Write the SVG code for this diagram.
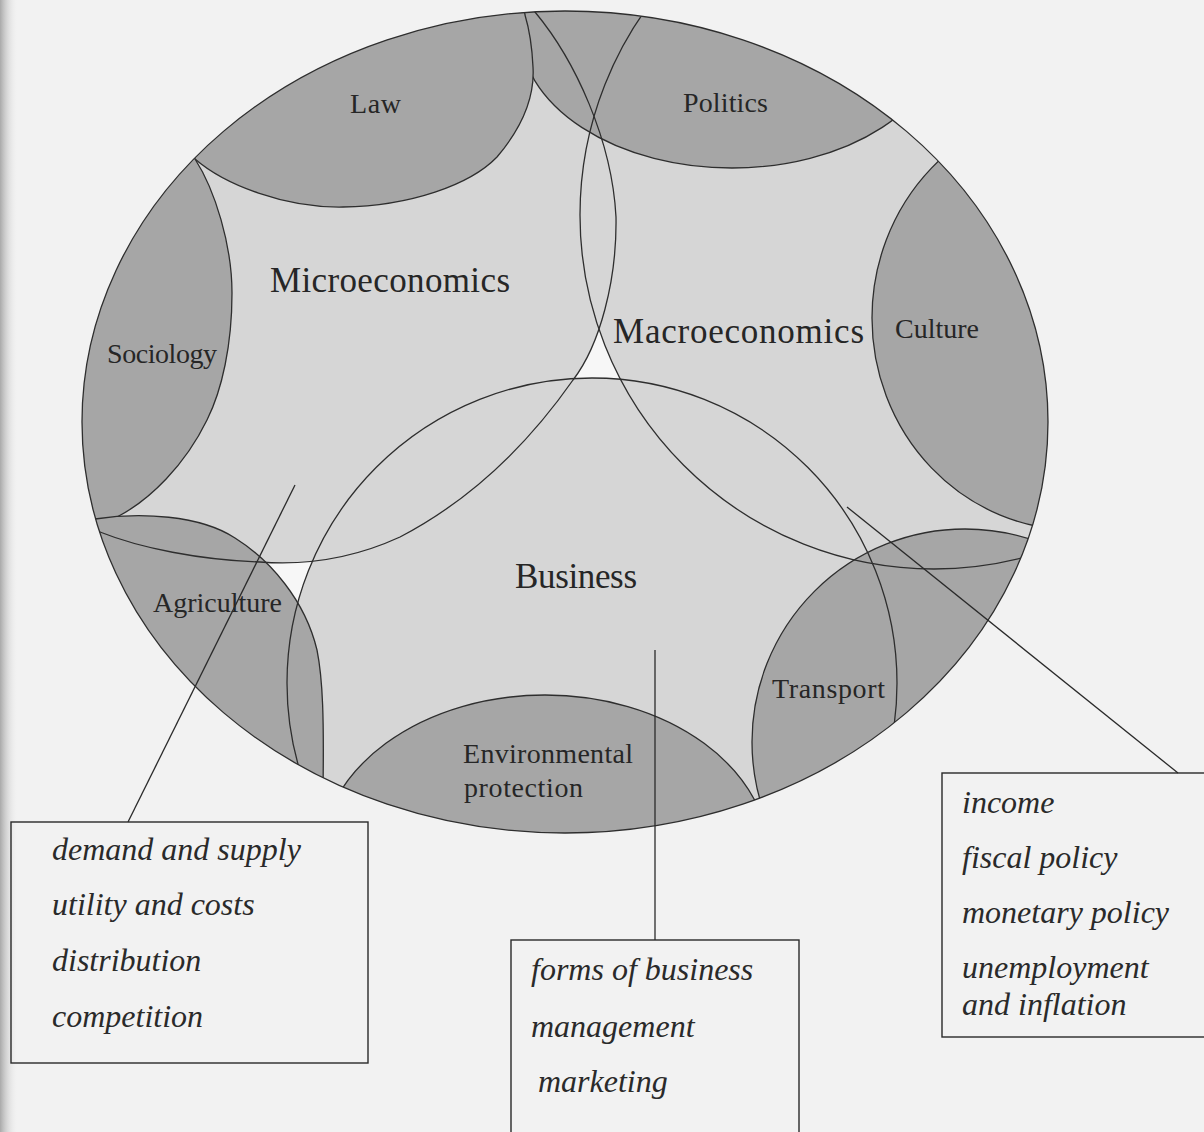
<svg xmlns="http://www.w3.org/2000/svg" width="1204" height="1132" viewBox="0 0 1204 1132">
  <defs>
    <clipPath id="oval-clip">
      <ellipse cx="565" cy="422" rx="483" ry="411"/>
    </clipPath>
    <linearGradient id="margin-shade" x1="0" y1="0" x2="1" y2="0">
      <stop offset="0" stop-color="#a9a9a9"/>
      <stop offset="1" stop-color="#f2f2f2" stop-opacity="0"/>
    </linearGradient>
    <!-- outlines of the three overlapping economics fields -->
    <path id="micro-shape" d="M 535,12 C 575,60 612,140 616,217 C 617,280 600,345 573,380 C 545,420 490,490 400,537 C 350,560 300,565 260,562 C 200,560 140,548 100,532 L 40,508 L 40,-36 L 495,-36 Z"/>
    <circle id="macro-shape" cx="934" cy="215" r="354"/>
    <circle id="business-shape" cx="592" cy="683" r="305"/>
  </defs>
  <style>
    .field { fill: #d6d6d6; stroke: none; }
    .ring { fill: none; stroke: #2e2e2e; stroke-width: 1.3; }
    .area { fill: #a6a6a6; stroke: #2e2e2e; stroke-width: 1.3; }
    .label { font-family: "Liberation Serif", "Times New Roman", serif; fill: #262626; }
    .small { font-size: 28px; }
    .big { font-size: 35px; }
    .note { font-family: "Liberation Serif", "Times New Roman", serif; font-style: italic; font-size: 32px; fill: #2a2a2a; }
    .box { fill: none; stroke: #2a2a2a; stroke-width: 1.4; }
    .pointer { fill: none; stroke: #2a2a2a; stroke-width: 1.3; }
  </style>

  <!-- page -->
  <rect x="0" y="0" width="1204" height="1132" fill="#f2f2f2"/>
  <rect x="0" y="0" width="18" height="1132" fill="url(#margin-shade)"/>

  <!-- outer oval -->
  <g id="oval">
    <ellipse cx="565" cy="422" rx="483" ry="411" fill="#f7f7f7"/>
  </g>

  <g clip-path="url(#oval-clip)">
    <!-- light fills of the economics fields -->
    <g id="fields">
      <use href="#micro-shape" class="field"/>
      <use href="#macro-shape" class="field"/>
      <use href="#business-shape" class="field"/>
    </g>

    <!-- neighbouring disciplines -->
    <g id="node-politics">
      <ellipse class="area" cx="732" cy="30" rx="212" ry="138"/>
      <text class="label small" x="683" y="112" textLength="85">Politics</text>
    </g>
    <g id="node-law">
      <path class="area" d="M 195,159 C 225,185 285,208 343,207 C 410,206 470,185 497,157 C 520,130 535,100 533,67 C 532,45 528,25 525,15 L 520,-20 L 150,-20 L 150,120 Z"/>
      <text class="label small" x="350" y="113" textLength="51">Law</text>
    </g>
    <g id="node-sociology">
      <path class="area" d="M 150,120 L 195,159 C 215,190 232,245 232,293 C 232,345 222,390 207,420 C 185,465 150,500 117,517 C 108,521 100,520 95,519 L 50,540 L 40,150 Z"/>
      <text class="label small" x="107" y="363" textLength="110">Sociology</text>
    </g>
    <g id="node-culture">
      <ellipse class="area" cx="1075" cy="318" rx="203" ry="212"/>
      <text class="label small" x="895" y="338" textLength="84">Culture</text>
    </g>
    <g id="node-agriculture">
      <path class="area" d="M 60,530 L 95,519 C 140,512 200,515 235,538 C 270,560 305,600 317,650 C 323,680 324,720 323,790 L 300,850 L 50,850 Z"/>
      <text class="label small" x="153" y="612" textLength="129">Agriculture</text>
    </g>
    <g id="node-environmental-protection">
      <ellipse class="area" cx="545" cy="860" rx="225" ry="165"/>
      <text class="label small" x="463" y="763" textLength="170">Environmental</text>
      <text class="label small" x="464" y="797" textLength="119">protection</text>
    </g>
    <g id="node-transport">
      <circle class="area" cx="965" cy="742" r="213"/>
      <text class="label small" x="772" y="698" textLength="113">Transport</text>
    </g>

    <!-- outlines of the economics fields, drawn over everything -->
    <g id="node-microeconomics">
      <use href="#micro-shape" class="ring"/>
      <text class="label big" x="270" y="292" textLength="240">Microeconomics</text>
    </g>
    <g id="node-macroeconomics">
      <use href="#macro-shape" class="ring"/>
      <text class="label big" x="613" y="343" textLength="251">Macroeconomics</text>
    </g>
    <g id="node-business">
      <use href="#business-shape" class="ring"/>
      <text class="label big" x="515" y="588" textLength="122">Business</text>
    </g>
  </g>

  <!-- rim of the outer oval -->
  <ellipse cx="565" cy="422" rx="483" ry="411" fill="none" stroke="#2e2e2e" stroke-width="1.3"/>

  <!-- connectors from fields to their topic lists -->
  <g id="connectors">
    <line class="pointer" x1="295" y1="485" x2="128" y2="822"/>
    <line class="pointer" x1="655" y1="650" x2="655" y2="940"/>
    <line class="pointer" x1="847" y1="507" x2="1178" y2="773"/>
  </g>

  <!-- topic lists -->
  <g id="note-microeconomics">
    <rect class="box" x="11" y="822" width="357" height="241"/>
    <text class="note" x="52" y="860">demand and supply</text>
    <text class="note" x="52" y="915">utility and costs</text>
    <text class="note" x="52" y="971">distribution</text>
    <text class="note" x="52" y="1027">competition</text>
  </g>
  <g id="note-business">
    <rect class="box" x="511" y="940" width="288" height="210"/>
    <text class="note" x="531" y="980">forms of business</text>
    <text class="note" x="531" y="1037">management</text>
    <text class="note" x="538" y="1092">marketing</text>
  </g>
  <g id="note-macroeconomics">
    <rect class="box" x="942" y="773" width="280" height="264"/>
    <text class="note" x="962" y="813">income</text>
    <text class="note" x="962" y="868">fiscal policy</text>
    <text class="note" x="962" y="923">monetary policy</text>
    <text class="note" x="962" y="978">unemployment</text>
    <text class="note" x="962" y="1015">and inflation</text>
  </g>
</svg>
